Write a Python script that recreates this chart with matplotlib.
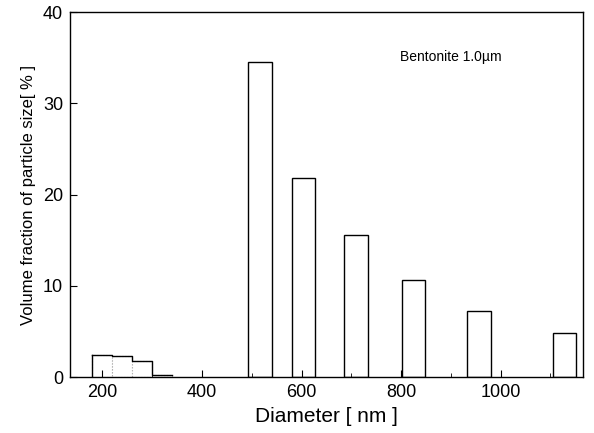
import matplotlib
matplotlib.use("Agg")
import matplotlib.pyplot as plt
from matplotlib.ticker import MultipleLocator

plt.rcParams['font.family'] = ['Liberation Sans', 'DejaVu Sans']

# small fraction bins (left part)
small_left = [180, 220, 260, 300]
small_height = [2.4, 2.3, 1.8, 0.25]
small_width = 40

# main bars
bar_left = [493, 581, 686, 802, 933, 1105]
bar_height = [34.5, 21.8, 15.6, 10.7, 7.3, 4.8]
bar_width = 47

label_text = "Bentonite 1.0\u00b5m"

fig = plt.figure(figsize=(5.94, 4.33), dpi=100)
ax = fig.add_axes([0.118, 0.129, 0.863, 0.843])

# small bins: faint dotted inner edges, black outline on top
ax.bar(small_left, small_height, width=small_width, align='edge',
       color='white', edgecolor='#aaaaaa', linestyle=':', linewidth=0.8)
xs = [small_left[0]] + [x + small_width for x in small_left]
ys = [small_height[0]] + small_height
ax.step(xs, ys, where='pre', color='black', linewidth=1.0)
ax.plot([small_left[0], small_left[0]], [0, small_height[0]], color='black', linewidth=1.0)

ax.bar(bar_left, bar_height, width=bar_width, align='edge',
       color='white', edgecolor='black', linewidth=1.0)

ax.set_xlim(135, 1165)
ax.set_ylim(0, 40)
ax.xaxis.set_major_locator(MultipleLocator(200))
ax.xaxis.set_minor_locator(MultipleLocator(100))
ax.yaxis.set_major_locator(MultipleLocator(10))
ax.tick_params(axis='both', which='both', direction='in', top=False, right=False)
ax.tick_params(which='major', length=5, labelsize=13, pad=5)
ax.tick_params(which='minor', length=3)

for s in ax.spines.values():
    s.set_linewidth(1.0)

ax.set_xlabel("Diameter [ nm ]", fontsize=15, labelpad=4)
ax.set_ylabel("Volume fraction of particle size[ % ]", fontsize=12, labelpad=5)

ax.text(797, 35.1, label_text, fontsize=10, ha='left', va='center')

fig.savefig("out.png", dpi=100)
